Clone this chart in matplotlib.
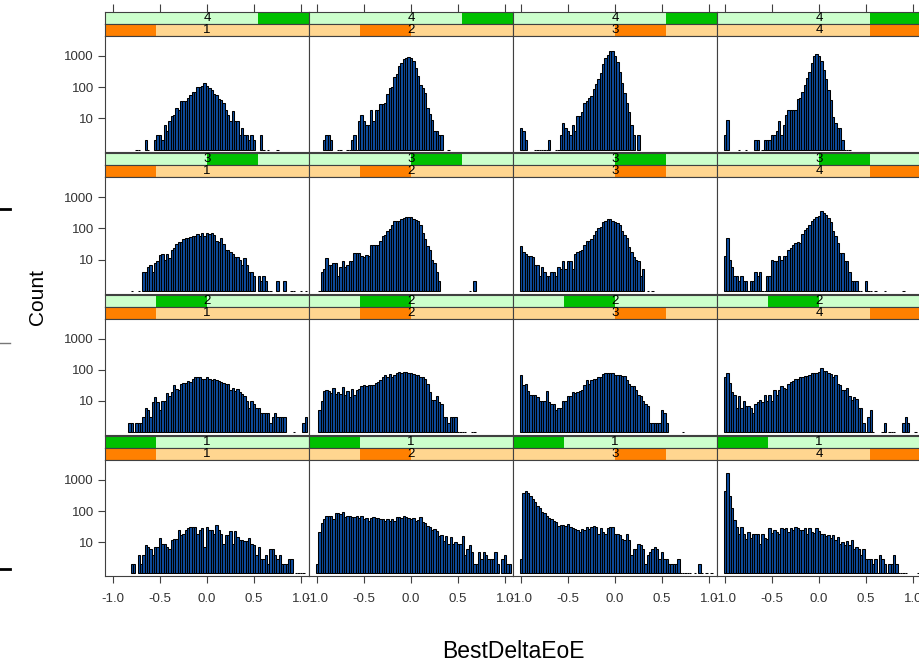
import numpy as np
import matplotlib
matplotlib.use("Agg")
import matplotlib.pyplot as plt
from matplotlib.lines import Line2D

plt.rcParams['font.family'] = ['Liberation Sans', 'DejaVu Sans']

# histogram counts per 0.025-wide bin, bin k centred at -1 + 0.025*k
# panel name: g<green level>_o<orange level>
g4_o1 = [0, 0, 0, 0, 0, 0, 0, 0, 0, 0, 1, 1, 0, 0, 2, 1, 0, 0, 2, 3,
         3, 2, 6, 4, 8, 12, 13, 22, 18, 35, 36, 37, 44, 55, 70, 72, 100, 105, 110, 135,
         110, 95, 80, 60, 55, 42, 38, 30, 19, 13, 8, 17, 8, 8, 3, 5, 3, 3, 2, 3,
         2, 0, 0, 3, 1, 0, 1, 0, 0, 0, 1]
g4_o2 = [0, 0, 0, 2, 3, 3, 2, 0, 0, 1, 1, 0, 0, 1, 1, 2, 3, 1, 8, 13,
         8, 6, 6, 18, 8, 18, 18, 28, 28, 30, 60, 93, 100, 210, 270, 460, 590, 800, 860, 920,
         860, 700, 410, 220, 120, 93, 64, 21, 14, 9, 4, 4, 3, 3, 0, 0, 1]
g4_o3 = [5, 4, 2, 0, 0, 0, 1, 1, 1, 1, 1, 1, 2, 0, 0, 1, 1, 3, 7, 5,
         4, 3, 6, 4, 12, 12, 16, 32, 37, 44, 52, 86, 128, 180, 280, 540, 840, 1100, 1450, 1450,
         970, 620, 310, 135, 64, 32, 16, 6, 3, 0, 3]
g4_o4 = [3, 9, 0, 0, 0, 0, 1, 0, 0, 1, 0, 0, 0, 2, 2, 0, 1, 2, 2, 2,
         3, 3, 4, 8, 3, 6, 13, 18, 18, 18, 18, 41, 46, 72, 118, 200, 300, 590, 970, 1150,
         1000, 670, 360, 180, 82, 38, 11, 7, 5, 5, 2, 1, 1, 1]

g3_o1 = [0, 0, 0, 0, 0, 0, 0, 0, 1, 0, 0, 1, 0, 4, 4, 6, 7, 4, 8, 9,
         14, 15, 10, 15, 11, 21, 23, 32, 38, 38, 46, 50, 50, 52, 57, 59, 67, 59, 70, 59,
         70, 67, 70, 62, 41, 36, 49, 32, 21, 20, 17, 15, 12, 12, 10, 7, 11, 7, 4, 4,
         3, 0, 3, 2, 3, 2, 1, 1, 0, 0, 2, 0, 0, 2, 0, 0, 1, 1, 0, 0,
         1, 0, 1]
g3_o2 = [0, 1, 4, 5, 11, 7, 7, 8, 8, 3, 6, 9, 6, 7, 9, 9, 16, 16, 16, 13,
         12, 14, 13, 30, 30, 30, 30, 41, 57, 62, 80, 97, 125, 170, 170, 180, 200, 220, 240, 240,
         230, 200, 190, 170, 125, 70, 46, 28, 20, 10, 8, 4, 2, 0, 0, 0, 0, 0, 0, 0,
         0, 0, 0, 0, 0, 1, 0, 2]
g3_o3 = [27, 17, 15, 13, 13, 12, 7, 7, 3, 6, 4, 3, 3, 4, 4, 3, 6, 5, 9, 5,
         9, 9, 5, 15, 17, 19, 20, 30, 41, 41, 45, 62, 86, 100, 110, 160, 180, 200, 200, 180,
         160, 150, 125, 86, 62, 49, 25, 17, 12, 10, 9, 3, 5, 0, 1, 0, 1]
g3_o4 = [13, 49, 10, 6, 3, 3, 2, 3, 2, 2, 1, 2, 2, 4, 3, 4, 1, 1, 3, 3,
         10, 9, 9, 13, 10, 13, 13, 21, 23, 30, 34, 38, 34, 67, 92, 100, 125, 170, 200, 240,
         260, 350, 320, 280, 210, 160, 80, 59, 34, 16, 16, 9, 9, 4, 2, 2, 2, 1, 1, 0,
         2, 1, 1, 0, 1, 0, 0, 0, 1, 0, 0, 0, 0, 0, 0, 0, 1]

g2_o1 = [0, 0, 0, 0, 0, 0, 0, 2, 2, 1, 2, 2, 2, 3, 6, 5, 3, 9, 13, 9,
         5, 10, 10, 18, 14, 19, 32, 25, 23, 34, 38, 38, 44, 41, 49, 57, 59, 57, 52, 49,
         59, 52, 46, 49, 46, 44, 41, 38, 36, 36, 23, 27, 21, 25, 20, 17, 14, 10, 6, 10,
         8, 6, 6, 4, 4, 4, 4, 2, 3, 4, 3, 3, 3, 3, 0, 0, 0, 1, 0, 0,
         0, 2, 3]
g2_o2 = [0, 5, 10, 21, 23, 21, 18, 27, 17, 19, 17, 28, 15, 21, 13, 25, 15, 23, 25, 30,
         32, 30, 32, 32, 32, 38, 41, 46, 59, 67, 57, 72, 59, 67, 80, 86, 77, 86, 86, 80,
         77, 72, 67, 67, 59, 57, 49, 34, 20, 11, 11, 14, 9, 8, 3, 3, 2, 3, 3, 3,
         1, 1, 1, 1, 0, 0, 1, 1]
g2_o3 = [67, 32, 34, 21, 16, 16, 15, 13, 10, 10, 10, 21, 9, 8, 8, 5, 6, 6, 10, 10,
         14, 14, 20, 18, 20, 21, 23, 32, 46, 36, 46, 49, 52, 59, 59, 72, 80, 80, 77, 77,
         70, 70, 67, 64, 64, 46, 36, 30, 30, 23, 15, 14, 10, 8, 7, 2, 2, 2, 2, 2,
         5, 4, 2, 0, 0, 0, 0, 0, 0, 1]
g2_o4 = [57, 80, 38, 20, 16, 6, 14, 6, 10, 7, 7, 6, 4, 8, 9, 11, 9, 15, 10, 16,
         10, 22, 15, 23, 30, 27, 25, 34, 41, 44, 49, 52, 57, 57, 62, 62, 67, 80, 80, 80,
         86, 110, 92, 92, 80, 72, 57, 67, 36, 32, 22, 22, 27, 14, 11, 13, 12, 6, 6, 2,
         1, 3, 5, 1, 0, 0, 0, 1, 2, 0, 1, 1, 1, 0, 0, 0, 2, 3, 2, 0,
         0, 1]

g1_o1 = [0, 0, 0, 0, 0, 0, 0, 0, 2, 2, 0, 4, 2, 4, 8, 7, 6, 4, 7, 7,
         14, 9, 9, 7, 6, 12, 13, 13, 25, 17, 19, 25, 28, 30, 30, 30, 19, 25, 28, 7,
         30, 25, 25, 19, 35, 25, 19, 9, 17, 17, 23, 9, 23, 15, 12, 12, 11, 11, 14, 9,
         8, 4, 7, 3, 3, 4, 2, 6, 6, 4, 3, 4, 2, 2, 2, 3, 3, 0, 1, 1,
         1, 1]
g1_o2 = [2, 21, 40, 57, 72, 72, 72, 57, 84, 84, 80, 92, 64, 70, 70, 66, 64, 70, 60, 70,
         54, 60, 48, 60, 64, 60, 60, 54, 54, 48, 57, 48, 54, 48, 64, 64, 60, 70, 64, 60,
         54, 60, 48, 51, 64, 44, 42, 33, 30, 25, 26, 23, 16, 17, 11, 16, 9, 15, 9, 10,
         9, 9, 16, 4, 6, 8, 5, 2, 2, 5, 3, 5, 4, 3, 3, 3, 5, 2, 0, 3,
         4, 2, 2]
g1_o3 = [3, 370, 450, 390, 300, 250, 200, 145, 130, 95, 84, 70, 62, 57, 49, 46, 33, 35, 35, 33,
         38, 31, 28, 26, 25, 22, 26, 25, 30, 26, 30, 33, 30, 19, 28, 22, 19, 28, 31, 30,
         18, 18, 17, 13, 12, 19, 12, 4, 6, 6, 9, 8, 6, 2, 4, 5, 6, 7, 6, 3,
         5, 3, 3, 2, 2, 2, 2, 3, 1, 1, 1, 1, 1, 0, 1, 0, 2, 1, 0, 1,
         0, 1]
g1_o4 = [450, 1700, 300, 130, 52, 30, 19, 30, 19, 13, 22, 14, 19, 19, 19, 9, 18, 14, 13, 28,
         20, 25, 22, 18, 28, 26, 28, 22, 28, 25, 30, 28, 25, 25, 28, 19, 28, 22, 20, 28,
         23, 19, 18, 16, 17, 14, 17, 12, 15, 9, 10, 8, 11, 8, 12, 6, 7, 6, 4, 6,
         3, 3, 3, 2, 3, 1, 4, 3, 2, 1, 2, 2, 4, 2, 1, 1, 1, 1, 0, 0,
         0, 0, 1, 1]

green_levels = [4, 3, 2, 1]      # top row to bottom row
orange_levels = [1, 2, 3, 4]     # left to right
panels = {
    (4, 1): g4_o1, (4, 2): g4_o2, (4, 3): g4_o3, (4, 4): g4_o4,
    (3, 1): g3_o1, (3, 2): g3_o2, (3, 3): g3_o3, (3, 4): g3_o4,
    (2, 1): g2_o1, (2, 2): g2_o2, (2, 3): g2_o3, (2, 4): g2_o4,
    (1, 1): g1_o1, (1, 2): g1_o2, (1, 3): g1_o3, (1, 4): g1_o4,
}
x_ticks = [-1.0, -0.5, 0.0, 0.5, 1.0]
x_ticklabels = ['-1.0', '-0.5', '0.0', '0.5', '1.0']
y_ticks = [1, 2, 3]
y_ticklabels = ['10', '100', '1000']

W, H = 919, 663
fig = plt.figure(figsize=(W / 100, H / 100), dpi=100)


def add_px(x0, y0, w, h):
    return fig.add_axes([x0 / W, 1 - (y0 + h) / H, w / W, h / H])


XLIM = (-1.085, 1.085)
YLIM = (-0.087, 3.64)
BIN_W = 0.025
EDGE = '#404040'
TXT = '#333333'

for r, green in enumerate(green_levels):
    top = 12 + 141.3 * r
    for c, orange in enumerate(orange_levels):
        x0 = 105 + 204 * c
        strips = [(green, '#CCFFCC', '#00C000'), (orange, '#FFD690', '#FF8000')]
        for j, (level, light, dark) in enumerate(strips):
            sax = add_px(x0, top + 12 * j, 204, 12)
            sax.set_xlim(*XLIM)
            sax.set_ylim(0, 1)
            sax.set_facecolor(light)
            span = XLIM[1] - XLIM[0]
            sax.axvspan(XLIM[0] + span * (level - 1) / 4, XLIM[0] + span * level / 4,
                        color=dark, lw=0)
            sax.text(0, 0.5, str(level), ha='center', va='center', fontsize=9.5)
            sax.set_yticks([])
            if r == 0 and j == 0:
                sax.xaxis.tick_top()
                sax.set_xticks(x_ticks)
                sax.tick_params(axis='x', direction='out', length=6, width=0.8,
                                color=EDGE, labeltop=False, labelbottom=False)
            else:
                sax.set_xticks([])
            for s in sax.spines.values():
                s.set_color(EDGE)
                s.set_linewidth(0.8)

        ax = add_px(x0, top + 24, 204, 116.3)
        vals = panels[(green, orange)]
        xs = [-1 + BIN_W * k for k, n in enumerate(vals) if n > 0]
        hs = [np.log10(n) for n in vals if n > 0]
        ax.bar(xs, hs, width=BIN_W, color='#0E4C9E', edgecolor='black', linewidth=0.75)
        ax.set_xlim(*XLIM)
        ax.set_ylim(*YLIM)
        for s in ax.spines.values():
            s.set_color(EDGE)
            s.set_linewidth(0.8)
        if c == 0:
            ax.set_yticks(y_ticks)
            ax.set_yticklabels(y_ticklabels)
            ax.tick_params(axis='y', direction='out', length=5, width=0.8,
                           color=EDGE, labelsize=9.5, labelcolor=TXT, pad=3)
        else:
            ax.set_yticks([])
        if r == 3:
            ax.set_xticks(x_ticks)
            ax.set_xticklabels(x_ticklabels)
            ax.tick_params(axis='x', direction='out', length=5, width=0.8,
                           color=EDGE, labelsize=9.5, labelcolor=TXT, pad=7)
        else:
            ax.set_xticks([])

fig.text(38 / W, 1 - 297 / H, 'Count', rotation=90, ha='center', va='center', fontsize=15)
fig.text(513 / W, 1 - 651 / H, 'BestDeltaEoE', ha='center', va='center', fontsize=16.5)

# stray marks at the left edge
fig.add_artist(Line2D([0, 10 / W], [1 - 209 / H] * 2, color='black', lw=2))
fig.add_artist(Line2D([0, 10 / W], [1 - 343 / H] * 2, color='#777777', lw=1))
fig.add_artist(Line2D([0, 10 / W], [1 - 569 / H] * 2, color='black', lw=2))

fig.savefig('out.png', dpi=100)
